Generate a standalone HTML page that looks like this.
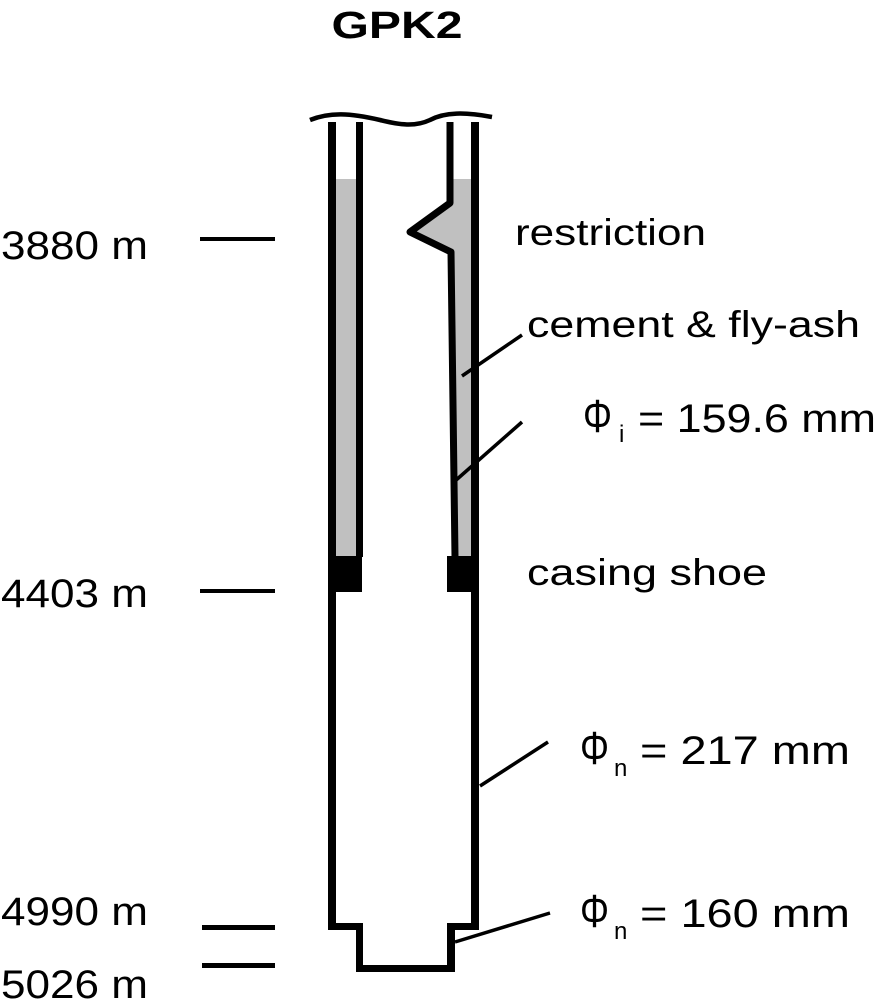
<!DOCTYPE html>
<html><head><meta charset="utf-8"><style>
html,body{margin:0;padding:0;background:#fff;}
svg{display:block;}
text{font-family:"Liberation Sans",Arial,sans-serif;fill:#000;}
</style></head><body>
<svg width="878" height="1000" viewBox="0 0 878 1000" xmlns="http://www.w3.org/2000/svg">
<text x="397" y="38" font-size="38" font-weight="bold" text-anchor="middle" textLength="131" lengthAdjust="spacingAndGlyphs">GPK2</text>
<path d="M310 120 C330 112,350 113,380 120 C400 125,415 127,430 120 C445 112,465 112,492 117" fill="none" stroke="#000" stroke-width="4.5"/>
<rect x="336" y="179" width="21" height="378" fill="#c0c0c0"/>
<polygon points="454,179 471,179 471,557 455,557 451,252 410,232 447,203 450,179" fill="#c0c0c0"/>
<rect x="328" y="122" width="8" height="808" fill="#000"/>
<rect x="356" y="122" width="7" height="435" fill="#000"/>
<rect x="471" y="122" width="8" height="808" fill="#000"/>
<path d="M450 122 L450 203 L410 232 L451 252 L455 557" fill="none" stroke="#000" stroke-width="7" stroke-linejoin="round"/>
<rect x="328" y="556" width="34" height="36" fill="#000"/>
<rect x="447" y="556" width="32" height="36" fill="#000"/>
<rect x="328" y="923" width="35" height="7" fill="#000"/>
<rect x="447" y="923" width="32" height="7" fill="#000"/>
<rect x="356" y="923" width="7" height="49" fill="#000"/>
<rect x="447" y="923" width="8" height="49" fill="#000"/>
<rect x="356" y="965" width="99" height="7" fill="#000"/>
<rect x="200" y="237" width="75" height="4" fill="#000"/>
<rect x="200" y="589" width="75" height="4" fill="#000"/>
<rect x="202" y="925" width="73" height="5" fill="#000"/>
<rect x="202" y="963" width="73" height="5" fill="#000"/>
<g stroke="#000" stroke-width="3.5">
<line x1="462" y1="376" x2="522" y2="335"/>
<line x1="455" y1="481" x2="522" y2="422"/>
<line x1="480" y1="786" x2="548" y2="742"/>
<line x1="455" y1="942" x2="550" y2="913"/>
</g>
<g font-size="40">
<text x="1" y="259" textLength="147" lengthAdjust="spacingAndGlyphs">3880 m</text>
<text x="1" y="607" textLength="147" lengthAdjust="spacingAndGlyphs">4403 m</text>
<text x="1" y="925" textLength="147" lengthAdjust="spacingAndGlyphs">4990 m</text>
<text x="1" y="998" textLength="147" lengthAdjust="spacingAndGlyphs">5026 m</text>
</g>
<g font-size="37">
<text x="515" y="245" textLength="191" lengthAdjust="spacingAndGlyphs">restriction</text>
<text x="527" y="337" textLength="333" lengthAdjust="spacingAndGlyphs">cement &amp; fly-ash</text>
<text x="527" y="585" textLength="240" lengthAdjust="spacingAndGlyphs">casing shoe</text>
</g>
<g font-size="40">
<text x="583" y="432" font-size="46" textLength="29" lengthAdjust="spacingAndGlyphs">Φ</text>
<text x="619" y="442" font-size="24">i</text>
<text x="638" y="432" textLength="238" lengthAdjust="spacingAndGlyphs">= 159.6 mm</text>
<text x="580" y="764" font-size="46" textLength="29" lengthAdjust="spacingAndGlyphs">Φ</text>
<text x="614" y="776" font-size="24">n</text>
<text x="640" y="764" textLength="210" lengthAdjust="spacingAndGlyphs">= 217 mm</text>
<text x="580" y="927" font-size="46" textLength="29" lengthAdjust="spacingAndGlyphs">Φ</text>
<text x="614" y="939" font-size="24">n</text>
<text x="640" y="927" textLength="210" lengthAdjust="spacingAndGlyphs">= 160 mm</text>
</g>
</svg>
</body></html>
